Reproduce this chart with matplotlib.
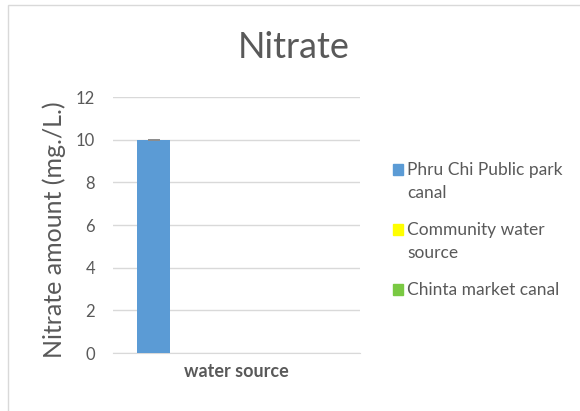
import numpy as np
import matplotlib.pyplot as plt
from matplotlib.patches import Rectangle

# Data
category = "water source"
series = ["Phru Chi Public park canal", "Community water source", "Chinta market canal"]
legend_labels = ["Phru Chi Public park\ncanal", "Community water\nsource", "Chinta market canal"]
values = [10, 0, 0]
errors = [0, 0, 0]
colors = ["#5b9bd5", "#ffff00", "#7ac943"]
yticks = [0, 2, 4, 6, 8, 10, 12]

plt.rcParams['font.family'] = ['Lato', 'DejaVu Sans']
grey = "#595959"

fig = plt.figure(figsize=(5.8, 4.11), dpi=100)
fig.patch.set_facecolor("white")

# outer chart border
fig.patches.append(Rectangle((8 / 580, -0.1), 1.0, (411 - 5) / 411 + 0.1,
                             transform=fig.transFigure, fill=False,
                             edgecolor="#d9d9d9", linewidth=1.0))

ax = fig.add_axes([113 / 580, 58 / 411, 247 / 580, 256 / 411])

width = 0.134
offsets = [-0.336, -0.202, -0.068]
for i in range(len(series)):
    ax.bar(offsets[i], values[i], width=width, color=colors[i], zorder=3)
    if values[i] > 0:
        ax.errorbar(offsets[i], values[i], yerr=errors[i], fmt="none",
                    ecolor="#8c8c8c", capsize=4, capthick=1.2, zorder=4)

ax.set_xlim(-0.5, 0.5)
ax.set_ylim(0, 12)
ax.set_yticks(yticks)
ax.set_xticks([])
ax.yaxis.grid(True, color="#d9d9d9", linewidth=1.0, zorder=0)
for s in ["top", "right", "left"]:
    ax.spines[s].set_visible(False)
ax.spines["bottom"].set_color("#d9d9d9")
ax.tick_params(axis="y", length=0, labelsize=12, labelcolor=grey, pad=13)

ax.set_xlabel(category, fontsize=13, fontweight="bold", color=grey, labelpad=7)
ax.set_ylabel("Nitrate amount (mg./L.)", fontsize=18, color=grey)
ax.yaxis.set_label_coords(-0.19, 0.48)

fig.text(294 / 580, 1 - 48 / 411, "Nitrate", fontsize=26, color=grey,
         ha="center", va="center")

# legend drawn by hand so the swatch sits on the first text line
leg_y = [170, 230, 290]
for i in range(len(series)):
    y = 1 - leg_y[i] / 411
    fig.patches.append(Rectangle((393 / 580, y - 5 / 411), 10 / 580, 11 / 411,
                                 transform=fig.transFigure, color=colors[i]))
    fig.text(407 / 580, y + 8 / 411, legend_labels[i], fontsize=12.5, color=grey,
             ha="left", va="top", linespacing=1.55)

fig.savefig("out.png", dpi=100)
